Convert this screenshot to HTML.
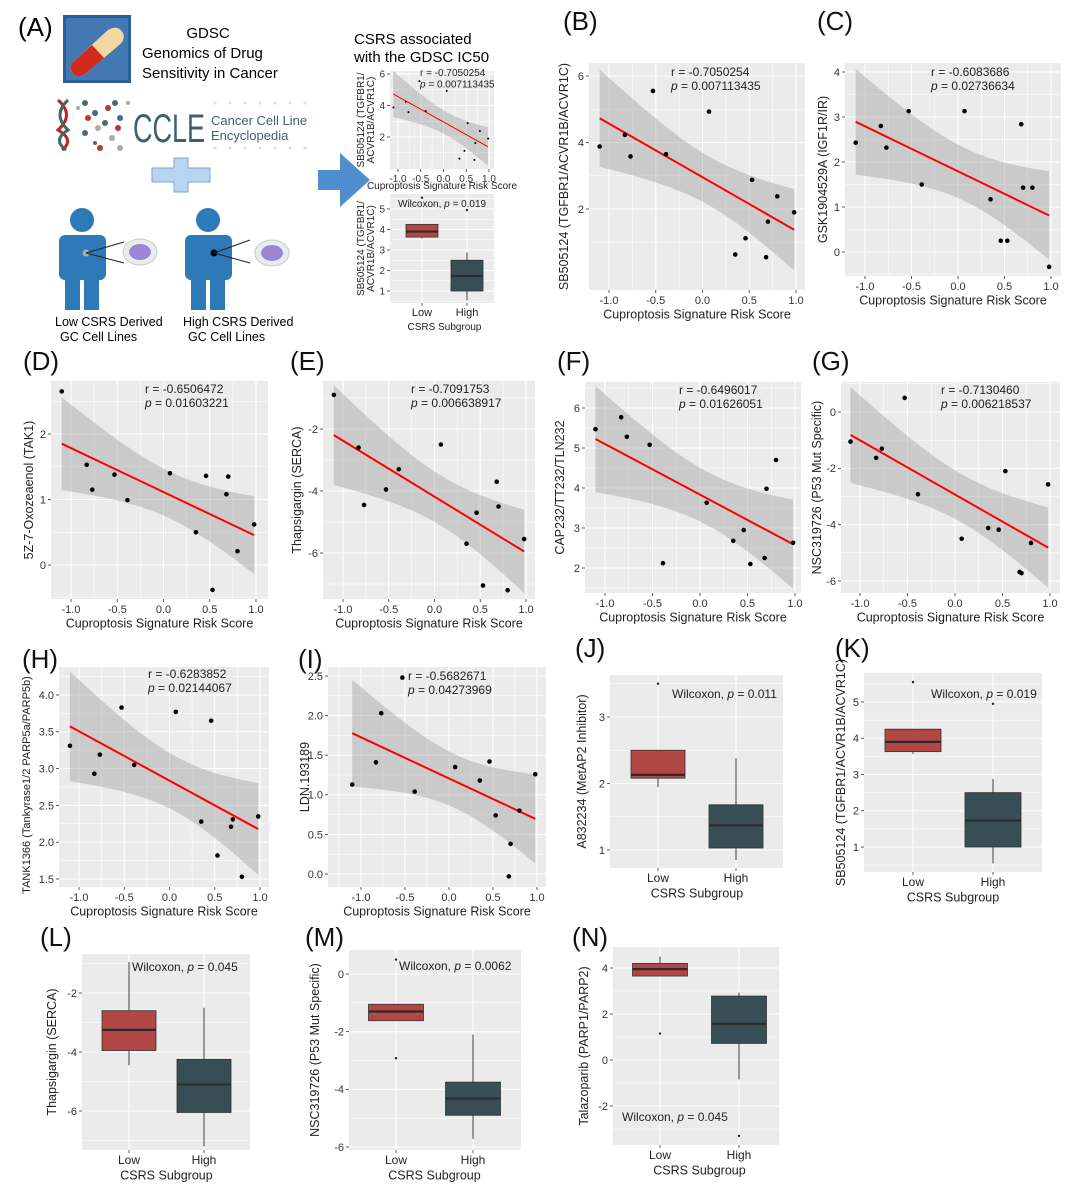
<!DOCTYPE html>
<html><head><meta charset="utf-8">
<style>
body{margin:0;background:#fff;}
svg{display:block;font-family:"Liberation Sans",Arial,sans-serif;}
</style></head>
<body>
<svg id="fig" width="1080" height="1197" viewBox="0 0 1080 1197" xmlns="http://www.w3.org/2000/svg">
<g>
  <text x="18" y="36" font-size="26">(A)</text>
  <g>
    <rect x="63" y="15" width="68" height="68" fill="#2a5d9a"/>
    <rect x="66" y="18" width="62" height="62" fill="#4b7fb9" opacity="0.8"/>
    <path d="M73 62 L108 30 Q118 24 123 33 Q126 40 118 46 L85 74 Q76 79 72 72 Q69 66 73 62Z" fill="#f1d7a0"/>
    <path d="M73 62 L92 45 L104 58 L85 74 Q76 79 72 72 Q69 66 73 62Z" fill="#d1291e"/>
  </g>
  <text x="208" y="38" font-size="15" text-anchor="middle">GDSC</text>
  <text x="142" y="58" font-size="15">Genomics of Drug</text>
  <text x="142" y="78" font-size="15">Sensitivity in Cancer</text>
  <g>
    <path d="M58 100 Q75 115 58 130 Q75 140 62 150" stroke="#b22" stroke-width="3" fill="none"/>
    <path d="M68 100 Q52 115 68 130 Q52 140 66 150" stroke="#466" stroke-width="3" fill="none"/>
    <g fill="#4a6a80">
      <circle cx="85" cy="103" r="3"/><circle cx="95" cy="113" r="3"/><circle cx="105" cy="123" r="3"/><circle cx="85" cy="133" r="3"/><circle cx="95" cy="143" r="2"/><circle cx="115" cy="103" r="3"/><circle cx="120" cy="118" r="3"/>
    </g>
    <g fill="#b33">
      <circle cx="108" cy="108" r="3"/><circle cx="88" cy="118" r="3"/><circle cx="118" cy="128" r="3"/><circle cx="100" cy="148" r="3"/>
    </g>
    <g fill="#aaa">
      <circle cx="78" cy="108" r="2"/><circle cx="98" cy="128" r="3"/><circle cx="112" cy="138" r="3"/><circle cx="120" cy="148" r="3"/><circle cx="128" cy="103" r="2"/>
    </g>
    <g fill="#ddd">
      <circle cx="215" cy="103" r="1.5"/><circle cx="230" cy="103" r="1.5"/><circle cx="245" cy="103" r="1.5"/><circle cx="260" cy="103" r="1.5"/><circle cx="275" cy="103" r="1.5"/><circle cx="290" cy="103" r="1.5"/><circle cx="305" cy="103" r="1.5"/>
      <circle cx="215" cy="148" r="1.5"/><circle cx="230" cy="148" r="1.5"/><circle cx="245" cy="148" r="1.5"/><circle cx="260" cy="148" r="1.5"/><circle cx="275" cy="148" r="1.5"/><circle cx="290" cy="148" r="1.5"/><circle cx="305" cy="148" r="1.5"/>
    </g>
    <text x="133" y="142" font-size="40" fill="#3e5f76" textLength="72" lengthAdjust="spacingAndGlyphs">CCLE</text>
    <text x="211" y="125" font-size="13" fill="#3e5f76">Cancer Cell Line</text>
    <text x="211" y="140" font-size="13" fill="#3e5f76">Encyclopedia</text>
  </g>
  <path d="M152 168 h22 v-10 h14 v10 h22 v14 h-22 v10 h-14 v-10 h-22z" fill="#b8d4f0" stroke="#7aa6d6"/>
  <g fill="#2e7ab8">
    <circle cx="82" cy="220" r="12"/>
    <rect x="59" y="235" width="47" height="45" rx="6"/>
    <rect x="65" y="270" width="15" height="40"/><rect x="84" y="270" width="15" height="40"/>
    <circle cx="86" cy="253" r="3.5" fill="#aaa"/>
    <line x1="86" y1="253" x2="124" y2="242" stroke="#222"/><line x1="86" y1="253" x2="124" y2="263" stroke="#222"/>
    <ellipse cx="140" cy="252" rx="17" ry="13" fill="#e8ecef" stroke="#ccc"/>
    <ellipse cx="140" cy="252" rx="11" ry="8" fill="#9b86d6"/>
  </g>
  <g fill="#2e7ab8">
    <circle cx="208" cy="220" r="12"/>
    <rect x="185" y="235" width="47" height="45" rx="6"/>
    <rect x="191" y="270" width="15" height="40"/><rect x="210" y="270" width="15" height="40"/>
    <circle cx="214" cy="253" r="3.5" fill="#000"/>
    <line x1="214" y1="253" x2="250" y2="240" stroke="#222"/><line x1="214" y1="253" x2="250" y2="263" stroke="#222"/>
    <ellipse cx="272" cy="253" rx="17" ry="13" fill="#e8ecef" stroke="#ccc"/>
    <ellipse cx="272" cy="253" rx="11" ry="8" fill="#9b86d6"/>
  </g>
  <text x="55" y="326" font-size="12.5">Low  CSRS Derived</text>
  <text x="60" y="341" font-size="12.5">GC Cell Lines</text>
  <text x="183" y="326" font-size="12.5">High  CSRS Derived</text>
  <text x="188" y="341" font-size="12.5">GC Cell Lines</text>
  <path d="M318 170 h22 v-17 l30 27 l-30 27 v-17 h-22z" fill="#4f8fcf"/>
  <text x="354" y="44" font-size="15">CSRS associated</text>
  <text x="354" y="62" font-size="15">with the GDSC IC50</text>
</g>
<g id="charts"></g>
</svg>
<script>
const riskScores = [-1.1,-0.83,-0.77,-0.53,-0.39,0.07,0.35,0.46,0.53,0.68,0.70,0.80,0.98];
const xTickValues = [-1.0,-0.5,0.0,0.5,1.0];
const xTickLabels = ["-1.0","-0.5","0.0","0.5","1.0"];
const ySB505124 = [3.88,4.23,3.58,5.55,3.65,4.93,0.63,1.12,2.88,0.55,1.62,2.38,1.9];
const yGSK = [2.43,2.8,2.32,3.13,1.5,3.13,1.17,0.25,0.25,2.84,1.43,1.43,-0.33];
const yOxo = [2.65,1.53,1.15,1.38,0.99,1.4,0.5,1.36,-0.38,1.08,1.35,0.21,0.62];
const yThapsi = [-0.9,-2.6,-4.45,-3.95,-3.3,-2.5,-5.7,-4.7,-7.05,-3.7,-4.5,-7.2,-5.55];
const yCAP = [5.47,5.77,5.28,5.08,2.12,3.63,2.68,2.95,2.1,2.25,3.98,4.7,2.63];
const yNSC = [-1.05,-1.63,-1.3,0.5,-2.92,-4.5,-4.12,-4.18,-2.1,-5.68,-5.72,-4.65,-2.57];
const yTANK = [3.31,2.93,3.19,3.83,3.05,3.77,2.28,3.65,1.82,2.21,2.31,1.53,2.35];
const yLDN = [1.13,1.41,2.03,2.48,1.04,1.35,1.18,1.42,0.74,-0.03,0.38,0.8,1.26];
const groups = ["Low","High"];
const boxJ = [[1.95,2.08,2.13,2.5,2.5],[0.85,1.03,1.37,1.68,2.38]];
const outJ = [[3.5],[]];
const boxK = [[3.57,3.63,3.9,4.25,4.25],[0.55,1.0,1.73,2.5,2.88]];
const outK = [[5.55],[4.95]];
const boxL = [[-4.45,-3.95,-3.25,-2.6,-0.95],[-7.2,-6.05,-5.1,-4.25,-2.5]];
const outL = [[],[]];
const boxM = [[-1.62,-1.62,-1.3,-1.05,-1.05],[-5.72,-4.9,-4.32,-3.75,-2.1]];
const outM = [[0.5,-2.92],[]];
const boxN = [[3.65,3.65,3.95,4.2,4.5],[-0.85,0.72,1.57,2.78,2.93]];
const outN = [[1.15],[-3.3]];

const NS="http://www.w3.org/2000/svg";
const root=document.getElementById('charts');
function mk(tag,attrs,parent){const e=document.createElementNS(NS,tag);for(const k in attrs)e.setAttribute(k,attrs[k]);(parent||root).appendChild(e);return e;}
function txt(s,attrs,parent){const e=mk('text',attrs,parent);e.textContent=s;return e;}
function lin(a,b,c,d){return v=>c+(v-a)*(d-c)/(b-a);}

function frame(g,P,yTicks,yLabels,ys,fs){
  mk('rect',{x:P.l,y:P.t,width:P.r-P.l,height:P.b-P.t,fill:'#ebebeb'},g);
  for(let i=0;i<yTicks.length+1;i++){
    const st=yTicks[1]-yTicks[0];
    const v=yTicks[0]-st/2+i*st; const py=ys(v);
    if(py>P.t&&py<P.b) mk('line',{x1:P.l,x2:P.r,y1:py,y2:py,stroke:'#fff','stroke-width':0.5},g);
  }
  yTicks.forEach((v,i)=>{const py=ys(v);
    mk('line',{x1:P.l,x2:P.r,y1:py,y2:py,stroke:'#fff','stroke-width':1.1},g);
    mk('line',{x1:P.l-3,x2:P.l,y1:py,y2:py,stroke:'#333','stroke-width':0.8},g);
    txt(yLabels[i],{x:P.l-5,y:py+fs*0.35,'font-size':fs,'text-anchor':'end',fill:'#333'},g);
  });
}

function scatter(o){
  const g=mk('g',{});
  
  
  const P=o.P, fs=o.fs||11;
  const xs=lin(-1,1,o.xm1,o.x1), ys=lin(o.yr[0],o.yr[2],o.yr[1],o.yr[3]);
  frame(g,P,o.yTicks,o.yLabels,ys,fs);
  xTickValues.forEach((v,i)=>{const px=xs(v);
    const mx=xs(v-0.25); if(mx>P.l) mk('line',{x1:mx,x2:mx,y1:P.t,y2:P.b,stroke:'#fff','stroke-width':0.5},g);
    mk('line',{x1:px,x2:px,y1:P.t,y2:P.b,stroke:'#fff','stroke-width':1.1},g);
    mk('line',{x1:px,x2:px,y1:P.b,y2:P.b+3,stroke:'#333','stroke-width':0.8},g);
    txt(xTickLabels[i],{x:px,y:P.b+fs+3,'font-size':fs,'text-anchor':'middle',fill:'#333'},g);
  });
  {const mx=xs(1.25); if(mx<P.r) mk('line',{x1:mx,x2:mx,y1:P.t,y2:P.b,stroke:'#fff','stroke-width':0.5},g);}
  const X=riskScores, Y=o.data, n=X.length;
  const xm=X.reduce((a,b)=>a+b)/n, ym=Y.reduce((a,b)=>a+b)/n;
  let sxx=0,sxy=0; X.forEach((x,i)=>{sxx+=(x-xm)**2;sxy+=(x-xm)*(Y[i]-ym);});
  const b=sxy/sxx, a=ym-b*xm;
  let sse=0; X.forEach((x,i)=>{sse+=(Y[i]-a-b*x)**2;});
  const s=Math.sqrt(sse/(n-2)), t=2.201;
  const x0=Math.min(...X), x1=Math.max(...X);
  let up=[],lo=[];
  for(let k=0;k<=40;k++){const x=x0+(x1-x0)*k/40, yh=a+b*x, h=t*s*Math.sqrt(1/n+(x-xm)**2/sxx);
    up.push(xs(x).toFixed(1)+','+ys(yh+h).toFixed(1)); lo.unshift(xs(x).toFixed(1)+','+ys(yh-h).toFixed(1));}
  const band=mk('polygon',{points:up.concat(lo).join(' '),fill:'#999','fill-opacity':0.4},g);
  
  
  const rl=mk('line',{x1:xs(x0),y1:ys(a+b*x0),x2:xs(x1),y2:ys(a+b*x1),stroke:'#f00','stroke-width':o.lw||2},g);
  
  
  X.forEach((x,i)=>{const c=mk('circle',{cx:xs(x),cy:ys(Y[i]),r:o.pr||2.3,fill:'#000'},g);
    
    });
  const rt=txt('r = '+o.r,{x:o.tx,y:o.ty,'font-size':o.tfs||12,fill:'#222'},g);
  
  
  const pt=mk('text',{x:o.tx,y:o.ty+(o.tfs||12)*1.15,'font-size':o.tfs||12,fill:'#222'},g);
  
  
  const it=document.createElementNS(NS,'tspan');it.setAttribute('font-style','italic');it.textContent='p';pt.appendChild(it);
  pt.appendChild(document.createTextNode(' = '+o.p));
  const xt=txt('Cuproptosis Signature Risk Score',{x:(P.l+P.r)/2,y:P.b+(o.xto||fs*2.4+2),'font-size':o.afs||12.5,'text-anchor':'middle',fill:'#222'},g);
  
  
  const cy=(P.t+P.b)/2+(o.yoff||0);
  const afs=o.yfs||o.afs||12.5;
  o.ylab.forEach((L,i)=>{
    const yt=txt(L,{x:o.ylx+i*afs,y:cy,'font-size':afs,'text-anchor':'middle',fill:'#222',transform:`rotate(-90 ${o.ylx+i*afs} ${cy})`},g);
    
    
  });
  if(o.label){const pl=txt(o.label,{x:o.lx,y:o.ly,'font-size':26,fill:'#111'},g);
    
    }
}

function boxplot(o){
  const g=mk('g',{});
  
  
  const P=o.P, fs=o.fs||11;
  const ys=lin(o.yr[0],o.yr[2],o.yr[1],o.yr[3]);
  frame(g,P,o.yTicks,o.yLabels,ys,fs);
  const cols=['#b24745','#374e55'];
  groups.forEach((gname,i)=>{
    const cx=o.gx[i];
    mk('line',{x1:cx,x2:cx,y1:P.t,y2:P.b,stroke:'#fff','stroke-width':1.1},g);
    mk('line',{x1:cx,x2:cx,y1:P.b,y2:P.b+3,stroke:'#333','stroke-width':0.8},g);
    txt(gname,{x:cx,y:P.b+fs+3,'font-size':fs+1,'text-anchor':'middle',fill:'#222'},g);
  });
  groups.forEach((gname,i)=>{
    const cx=o.gx[i], st=o.stats[i], w=o.bw;
    mk('line',{x1:cx,x2:cx,y1:ys(st[0]),y2:ys(st[4]),stroke:'#444','stroke-width':1},g);
    const r=mk('rect',{x:cx-w/2,y:ys(st[3]),width:w,height:ys(st[1])-ys(st[3]),fill:cols[i],stroke:'#333','stroke-width':0.8},g);
    
    
    mk('line',{x1:cx-w/2,x2:cx+w/2,y1:ys(st[2]),y2:ys(st[2]),stroke:'#2b2b2b','stroke-width':2.2},g);
    o.outs[i].forEach(v=>{const c=mk('circle',{cx:cx,cy:ys(v),r:1.2,fill:'#222'},g);
      
      });
  });
  const wt=mk('text',{x:o.tx,y:o.ty,'font-size':o.tfs||12,fill:'#222'},g);
  
  
  wt.appendChild(document.createTextNode('Wilcoxon, '));
  const it=document.createElementNS(NS,'tspan');it.setAttribute('font-style','italic');it.textContent='p';wt.appendChild(it);
  wt.appendChild(document.createTextNode(' = '+o.p));
  const xt=txt('CSRS Subgroup',{x:(o.gx[0]+o.gx[1])/2,y:P.b+fs*2.4+3,'font-size':o.afs||12.5,'text-anchor':'middle',fill:'#222'},g);
  
  
  const cy=(P.t+P.b)/2;
  const afs=o.afs||12.5;
  o.ylab.forEach((L,i)=>{
    const yt=txt(L,{x:o.ylx+i*afs,y:cy,'font-size':afs,'text-anchor':'middle',fill:'#222',transform:`rotate(-90 ${o.ylx+i*afs} ${cy})`},g);
    
    
  });
  if(o.label){const pl=txt(o.label,{x:o.lx,y:o.ly,'font-size':26,fill:'#111'},g);
    
    }
}

scatter({name:'mini-scatter-a',P:{l:390,r:494,t:71,b:169},xm1:398,x1:489,yr:[6,74,2,137],yTicks:[2,4,6],yLabels:['2','4','6'],
  data:ySB505124,r:'-0.7050254',p:'0.007113435',tx:420,ty:76,tfs:10,fs:10,afs:10,xto:20,lw:1,pr:1,ylx:364,ylab:['SB505124 (TGFBR1/','ACVR1B/ACVR1C)']});
boxplot({name:'mini-box-a',P:{l:390,r:494,t:194,b:303},yr:[5,209,1,291],yTicks:[1,2,3,4,5],yLabels:['1','2','3','4','5'],
  gx:[422,467],bw:32,stats:boxK,outs:outK,tx:398,ty:207,tfs:10,fs:10,afs:10,p:'0.019',ylx:364,ylab:['SB505124 (TGFBR1/','ACVR1B/ACVR1C)']});

scatter({name:'panel-b-scatter',label:'(B)',lx:563,ly:30,P:{l:589,r:805,t:63,b:290},xm1:609,x1:796,yr:[6,76,2,209],yTicks:[2,4,6],yLabels:['2','4','6'],
  data:ySB505124,r:'-0.7050254',p:'0.007113435',tx:671,ty:76,ylx:568,ylab:['SB505124 (TGFBR1/ACVR1B/ACVR1C)']});
scatter({name:'panel-c-scatter',label:'(C)',lx:817,ly:30,P:{l:845,r:1061,t:63,b:276},xm1:865,x1:1051,yr:[4,72,0,252],yTicks:[0,1,2,3,4],yLabels:['0','1','2','3','4'],
  data:yGSK,r:'-0.6083686',p:'0.02736634',tx:931,ty:76,ylx:827,ylab:['GSK1904529A (IGF1R/IR)']});
scatter({name:'panel-d-scatter',label:'(D)',lx:23,ly:370,P:{l:51,r:268,t:381,b:599},xm1:71,x1:256,yr:[2,434,0,565],yTicks:[0,1,2],yLabels:['0','1','2'],
  data:yOxo,r:'-0.6506472',p:'0.01603221',tx:145,ty:393,ylx:33,ylab:['5Z-7-Oxozeaenol (TAK1)']});
scatter({name:'panel-e-scatter',label:'(E)',lx:290,ly:370,P:{l:323,r:535,t:381,b:599},xm1:343,x1:526,yr:[-2,429,-6,553],yTicks:[-6,-4,-2],yLabels:['-6','-4','-2'],
  data:yThapsi,r:'-0.7091753',p:'0.006638917',tx:411,ty:393,ylx:301,ylab:['Thapsigargin (SERCA)']});
scatter({name:'panel-f-scatter',label:'(F)',lx:557,ly:370,P:{l:585,r:801,t:382,b:593},xm1:605,x1:795,yr:[6,408,2,568],yTicks:[2,3,4,5,6],yLabels:['2','3','4','5','6'],
  data:yCAP,r:'-0.6496017',p:'0.01626051',tx:679,ty:394,ylx:564,ylab:['CAP232/TT232/TLN232']});
scatter({name:'panel-g-scatter',label:'(G)',lx:812,ly:370,P:{l:841,r:1060,t:382,b:593},xm1:860,x1:1050,yr:[0,412,-6,581],yTicks:[-6,-4,-2,0],yLabels:['-6','-4','-2','0'],
  data:yNSC,r:'-0.7130460',p:'0.006218537',tx:941,ty:394,ylx:821,ylab:['NSC319726 (P53 Mut Specific)']});
scatter({name:'panel-h-scatter',label:'(H)',lx:22,ly:668,P:{l:59,r:269,t:667,b:887},xm1:79,x1:260,yr:[4,695,1.5,879],yTicks:[1.5,2,2.5,3,3.5,4],yLabels:['1.5','2.0','2.5','3.0','3.5','4.0'],
  data:yTANK,r:'-0.6283852',p:'0.02144067',tx:148,ty:678,ylx:30,yfs:11,yoff:8,ylab:['TANK1366 (Tankyrase1/2 PARP5a/PARP5b)']});
scatter({name:'panel-i-scatter',label:'(I)',lx:298,ly:668,P:{l:328,r:546,t:667,b:887},xm1:361,x1:537,yr:[2.5,676,0,874],yTicks:[0,0.5,1,1.5,2,2.5],yLabels:['0.0','0.5','1.0','1.5','2.0','2.5'],
  data:yLDN,r:'-0.5682671',p:'0.04273969',tx:408,ty:680,ylx:309,ylab:['LDN.193189']});
boxplot({name:'panel-j-box',label:'(J)',lx:575,ly:657,P:{l:610,r:783,t:675,b:868},yr:[3,717,1,850],yTicks:[1,2,3],yLabels:['1','2','3'],
  gx:[658,736],bw:54,stats:boxJ,outs:outJ,tx:672,ty:698,p:'0.011',ylx:586,ylab:['A832234 (MetAP2 Inhibitor)']});
boxplot({name:'panel-k-box',label:'(K)',lx:835,ly:657,P:{l:864,r:1042,t:673,b:872},yr:[5,702,1,847],yTicks:[1,2,3,4,5],yLabels:['1','2','3','4','5'],
  gx:[913,993],bw:56,stats:boxK,outs:outK,tx:931,ty:698,p:'0.019',ylx:845,ylab:['SB505124 (TGFBR1/ACVR1B/ACVR1C)']});
boxplot({name:'panel-l-box',label:'(L)',lx:40,ly:946,P:{l:82,r:250,t:954,b:1150},yr:[-2,993,-6,1111],yTicks:[-6,-4,-2],yLabels:['-6','-4','-2'],
  gx:[129,204],bw:54,stats:boxL,outs:outL,tx:132,ty:971,p:'0.045',ylx:56,ylab:['Thapsigargin (SERCA)']});
boxplot({name:'panel-m-box',label:'(M)',lx:305,ly:946,P:{l:349,r:521,t:950,b:1150},yr:[0,974,-6,1147],yTicks:[-6,-4,-2,0],yLabels:['-6','-4','-2','0'],
  gx:[396,473],bw:55,stats:boxM,outs:outM,tx:399,ty:970,p:'0.0062',ylx:319,ylab:['NSC319726 (P53 Mut Specific)']});
boxplot({name:'panel-n-box',label:'(N)',lx:572,ly:946,P:{l:613,r:779,t:947,b:1145},yr:[4,968,-2,1106],yTicks:[-2,0,2,4],yLabels:['-2','0','2','4'],
  gx:[660,739],bw:55,stats:boxN,outs:outN,tx:622,ty:1121,p:'0.045',ylx:588,ylab:['Talazoparib (PARP1/PARP2)']});
</script>
</body></html>
